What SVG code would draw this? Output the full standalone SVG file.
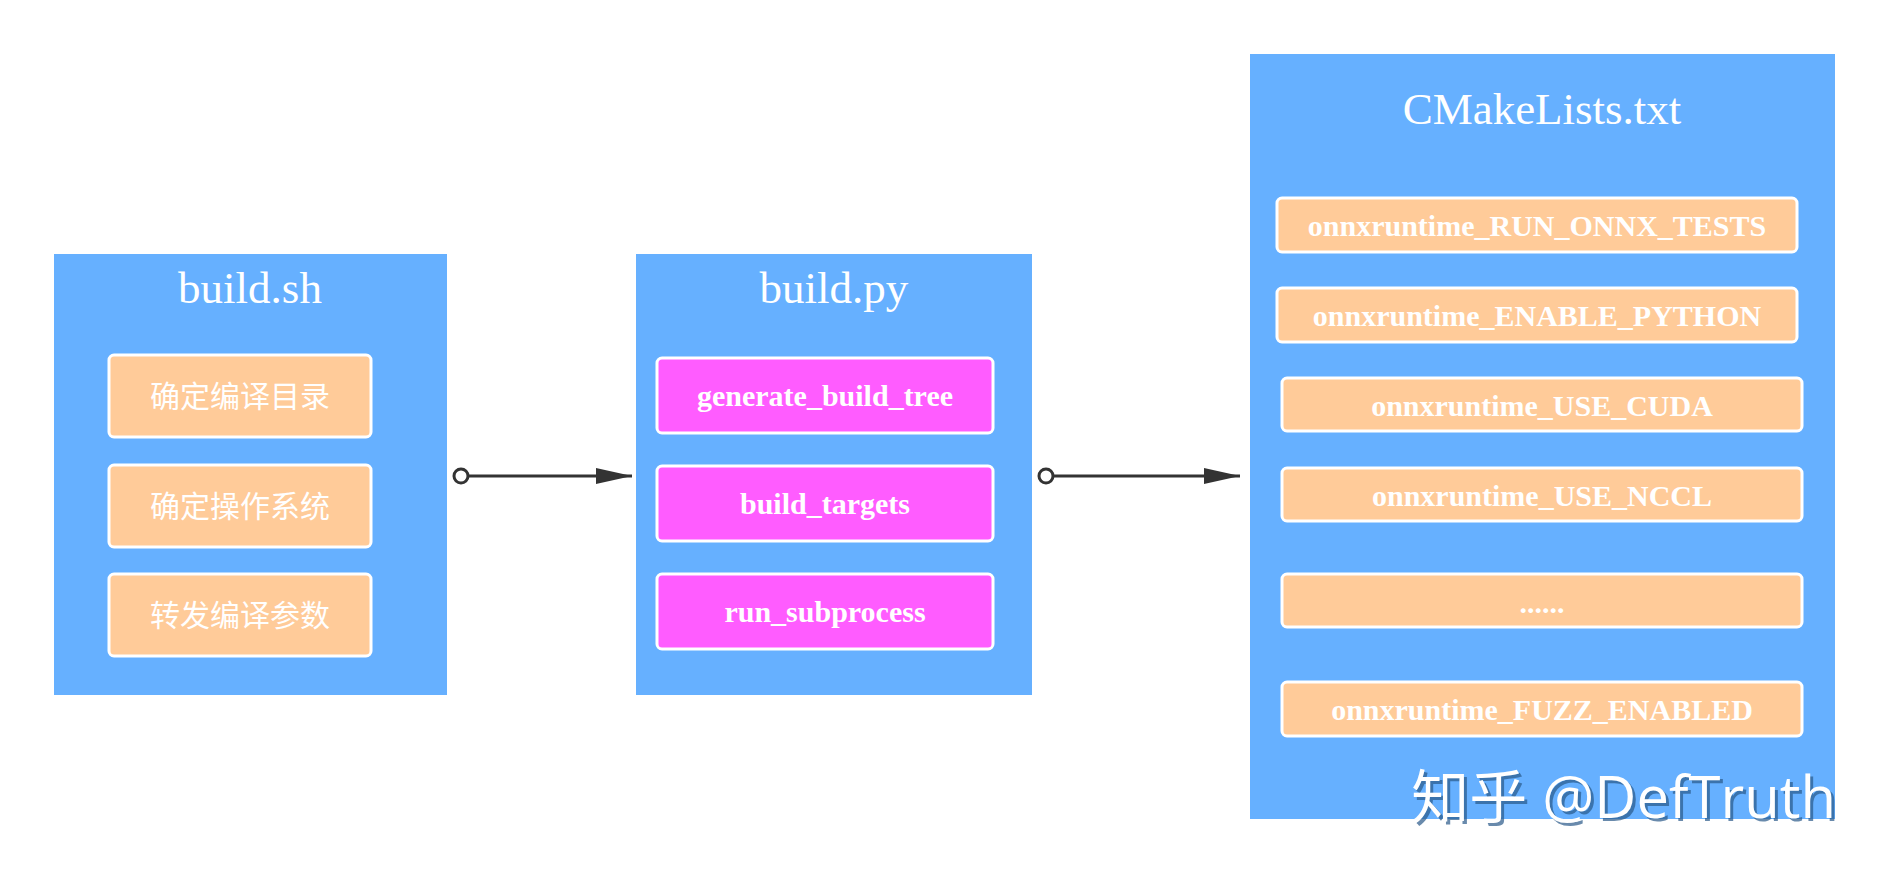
<svg xmlns="http://www.w3.org/2000/svg" width="1888" height="874" viewBox="0 0 1888 874">
<style>
.big{fill:#66b0ff}
.or{fill:#ffcb99;stroke:#fff;stroke-width:3}
.mg{fill:#ff5cff;stroke:#fff;stroke-width:3}
.t{fill:#fff;font-family:"Liberation Serif",serif;font-weight:bold;font-size:30px;text-anchor:middle}
.cj{fill:#fff;font-family:"Noto Sans CJK SC",sans-serif;font-size:30px;text-anchor:middle}
.ti{fill:#fff;font-family:"Liberation Serif",serif;font-size:45px;text-anchor:middle}
.c{stroke:#333;stroke-width:3;fill:none}
</style>
<defs>
<marker id="ar2" viewBox="0 0 36 20" markerWidth="36" markerHeight="20" refX="36" refY="10" orient="auto" markerUnits="userSpaceOnUse"><path d="M0,2L36,10L0,18z" fill="#333"/></marker></defs>
<g id="buildsh"><rect class="big" x="54" y="254" width="393" height="441"/><text class="ti" x="250" y="303">build.sh</text>
<rect class="or" x="109" y="355" width="262" height="82" rx="5"/><text class="cj" x="240" y="407">确定编译目录</text>
<rect class="or" x="109" y="465" width="262" height="82" rx="5"/><text class="cj" x="240" y="517">确定操作系统</text>
<rect class="or" x="109" y="574" width="262" height="82" rx="5"/><text class="cj" x="240" y="626">转发编译参数</text></g>
<g id="buildpy"><rect class="big" x="636" y="254" width="396" height="441"/><text class="ti" x="834" y="303">build.py</text>
<rect class="mg" x="657" y="358" width="336" height="75" rx="5"/><text class="t" x="825" y="406">generate_build_tree</text>
<rect class="mg" x="657" y="466" width="336" height="75" rx="5"/><text class="t" x="825" y="514">build_targets</text>
<rect class="mg" x="657" y="574" width="336" height="75" rx="5"/><text class="t" x="825" y="622">run_subprocess</text></g>
<g id="cmake"><rect class="big" x="1250" y="54" width="585" height="765"/><text class="ti" x="1542" y="124">CMakeLists.txt</text>
<rect class="or" x="1277" y="198" width="520" height="54" rx="5"/><text class="t" x="1537" y="236">onnxruntime_RUN_ONNX_TESTS</text>
<rect class="or" x="1277" y="288" width="520" height="54" rx="5"/><text class="t" x="1537" y="326">onnxruntime_ENABLE_PYTHON</text>
<rect class="or" x="1282" y="378" width="520" height="53" rx="5"/><text class="t" x="1542" y="416">onnxruntime_USE_CUDA</text>
<rect class="or" x="1282" y="468" width="520" height="53" rx="5"/><text class="t" x="1542" y="506">onnxruntime_USE_NCCL</text>
<rect class="or" x="1282" y="574" width="520" height="53" rx="5"/><text class="t" x="1542" y="613">......</text>
<rect class="or" x="1282" y="682" width="520" height="54" rx="5"/><text class="t" x="1542" y="720">onnxruntime_FUZZ_ENABLED</text></g>
<g id="connectors">
<line class="c" x1="467" y1="476" x2="632" y2="476" marker-end="url(#ar2)"/><circle cx="461" cy="476" r="7" fill="#fff" stroke="#333" stroke-width="3"/>
<line class="c" x1="1052" y1="476" x2="1240" y2="476" marker-end="url(#ar2)"/><circle cx="1046" cy="476" r="7" fill="#fff" stroke="#333" stroke-width="3"/>
</g>
<g font-family="'Open Sans','Noto Sans CJK SC',sans-serif" font-size="58" text-anchor="end">
<text x="1839" y="821" fill="#2a5a8a" opacity="0.7">知乎 @DefTruth</text>
<text x="1836" y="818" fill="#fff">知乎 @DefTruth</text></g>
</svg>
